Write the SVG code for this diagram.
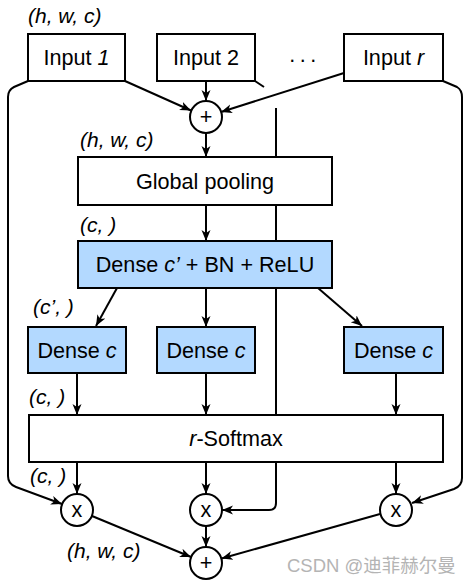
<svg xmlns="http://www.w3.org/2000/svg" width="472" height="584" viewBox="0 0 472 584">
<style>
.box{fill:#fff;stroke:#000;stroke-width:2}
.blue{fill:#b3d9ff;stroke:#000;stroke-width:2}
.op{fill:#fff;stroke:#000;stroke-width:2}
.t{font-family:"Liberation Sans",Arial,sans-serif;font-size:21.6px;fill:#000;text-anchor:middle}
.lab{font-family:"Liberation Sans",Arial,sans-serif;font-size:21px;font-style:italic;fill:#000}
.c{fill:none;stroke:#000;stroke-width:2}
.a{marker-end:url(#arr)}
.wm{font-family:"Liberation Sans","Noto Sans CJK SC",sans-serif;font-size:18.5px;fill:#b4b4b4}
</style>
<defs>
<marker id="arr" markerUnits="userSpaceOnUse" markerWidth="12" markerHeight="10" refX="11" refY="5" orient="auto">
<path d="M0,0.5 L11,5 L0,9.5 L3,5 Z" fill="#000"/>
</marker>
</defs>
<rect width="472" height="584" fill="#fff"/>
<g id="connectors">
<path class="c a" d="M125,81 L191,110.5"/>
<path class="c a" d="M206,81 V101"/>
<path class="c a" d="M344,73 L221,112"/>
<path class="c a" d="M206,133 V157"/>
<path class="c a" d="M206,205 V241"/>
<path class="c a" d="M117,288 L96,326"/>
<path class="c a" d="M206,288 V327"/>
<path class="c a" d="M318,288 L362,326"/>
<path class="c a" d="M77,373 V415"/>
<path class="c a" d="M206,373 V415"/>
<path class="c a" d="M396,373 V415"/>
<path class="c a" d="M77,462 V494"/>
<path class="c a" d="M206,462 V494"/>
<path class="c a" d="M396,462 V494"/>
<path class="c a" d="M28,81 L14,87 Q8,90 8,97 V476 Q8,484 16,487 L62,504"/>
<path class="c a" d="M443,81 L457,87 Q462,90 462,97 V478 Q462,486 454,489 L412,503"/>
<path class="c" d="M255,81 L264,87"/>
<path class="c a" d="M276,108 V503 Q276,510 269,510 H222"/>
<path class="c a" d="M92,516 L191,557"/>
<path class="c a" d="M206,526 V547"/>
<path class="c a" d="M380,514 L221.5,558.5"/>
</g>
<g id="input1"><rect class="box" x="28" y="34" width="97" height="47"/><text class="t" x="76.5" y="65">Input <tspan font-style="italic">1</tspan></text></g>
<g id="input2"><rect class="box" x="157" y="34" width="98" height="47"/><text class="t" x="206" y="65">Input 2</text></g>
<g id="dots"><text class="t" x="305" y="62" letter-spacing="4.5">...</text></g>
<g id="inputr"><rect class="box" x="344" y="34" width="99" height="47"/><text class="t" x="393.5" y="65">Input <tspan font-style="italic">r</tspan></text></g>
<g id="sum1"><circle class="op" cx="206" cy="117" r="16"/><text class="t" x="206" y="124">+</text></g>
<g id="gpool"><rect class="box" x="78" y="157" width="254" height="48"/><text class="t" x="205" y="189">Global pooling</text></g>
<g id="densecp"><rect class="blue" x="78" y="241" width="254" height="47"/><text class="t" x="205" y="272">Dense <tspan font-style="italic">c’</tspan> + BN + ReLU</text></g>
<g id="dense1"><rect class="blue" x="28" y="327" width="98" height="46"/><text class="t" x="77" y="358">Dense <tspan font-style="italic">c</tspan></text></g>
<g id="dense2"><rect class="blue" x="157" y="327" width="98" height="46"/><text class="t" x="206" y="358">Dense <tspan font-style="italic">c</tspan></text></g>
<g id="denser"><rect class="blue" x="344" y="327" width="99" height="46"/><text class="t" x="393.5" y="358">Dense <tspan font-style="italic">c</tspan></text></g>
<g id="softmax"><rect class="box" x="29" y="415" width="414" height="47"/><text class="t" x="236" y="446"><tspan font-style="italic">r</tspan>-Softmax</text></g>
<g id="mul1"><circle class="op" cx="77" cy="510" r="16"/><text class="t" x="77" y="517">x</text></g>
<g id="mul2"><circle class="op" cx="206" cy="510" r="16"/><text class="t" x="206" y="517">x</text></g>
<g id="mulr"><circle class="op" cx="396" cy="510" r="16"/><text class="t" x="396" y="517">x</text></g>
<g id="sum2"><circle class="op" cx="206" cy="563" r="16"/><text class="t" x="206" y="570">+</text></g>
<g id="labels">
<text class="lab" x="28" y="23">(h, w, c)</text>
<text class="lab" x="80" y="147">(h, w, c)</text>
<text class="lab" x="80" y="232">(c, )</text>
<text class="lab" x="33" y="314">(c’, )</text>
<text class="lab" x="29" y="404">(c, )</text>
<text class="lab" x="30" y="483">(c, )</text>
<text class="lab" x="67" y="558">(h, w, c)</text>
</g>
<text class="wm" x="287" y="572">CSDN @迪菲赫尔曼</text>
</svg>
